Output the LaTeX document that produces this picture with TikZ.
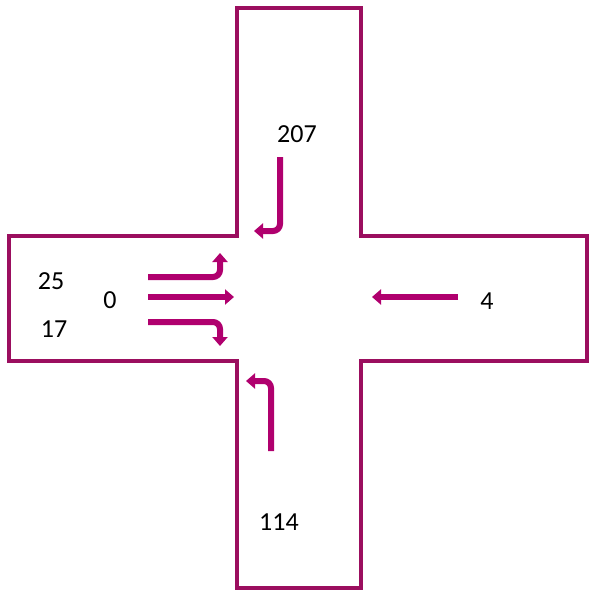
\documentclass[tikz,border=0pt]{standalone}
\usepackage{fontspec}
\setmainfont{Carlito}
\usetikzlibrary{arrows.meta}
\definecolor{edge}{RGB}{155,14,95}
\definecolor{arr}{RGB}{176,0,110}
\begin{document}
\begin{tikzpicture}[x=1pt,y=-1pt,
  road/.style={draw=edge,line width=4pt,line join=miter},
  flow/.style={draw=arr,line width=6pt,rounded corners=7pt,-{Triangle[width=15pt,length=9pt]}},
  lbl/.style={font=\fontsize{26}{30}\selectfont}]
\useasboundingbox (0,0) rectangle (589,591);
\draw[road] (237,8) -- (361,8) -- (361,236) -- (587,236) -- (587,361) -- (361,361) -- (361,588) -- (237,588) -- (237,361) -- (9,361) -- (9,236) -- (237,236) -- cycle;
% from north
\coordinate (n0) at (280,157);
\coordinate (n1) at (280,231);
\coordinate (n2) at (254,231);
\draw[flow] (n0) -- (n1) -- (n2);
% from south
\coordinate (s0) at (271,451);
\coordinate (s1) at (271,381);
\coordinate (s2) at (246,381);
\draw[flow] (s0) -- (s1) -- (s2);
% from east
\coordinate (e0) at (458,297);
\coordinate (e1) at (372,297);
\draw[flow] (e0) -- (e1);
% from west
\coordinate (w0) at (148,277);
\coordinate (w1) at (220,277);
\coordinate (w2) at (220,253);
\draw[flow] (w0) -- (w1) -- (w2);
\coordinate (m0) at (148,297);
\coordinate (m1) at (234,297);
\draw[flow] (m0) -- (m1);
\coordinate (b0) at (148,322);
\coordinate (b1) at (220,322);
\coordinate (b2) at (220,346);
\draw[flow] (b0) -- (b1) -- (b2);
% labels
\node[lbl] (t207) at (297,134) {207};
\node[lbl] (t114) at (279,522) {114};
\node[lbl] (t4) at (487,301) {4};
\node[lbl] (t25) at (51,281) {25};
\node[lbl] (t0) at (110,300) {0};
\node[lbl] (t17) at (54,329) {17};
\end{tikzpicture}
\end{document}
